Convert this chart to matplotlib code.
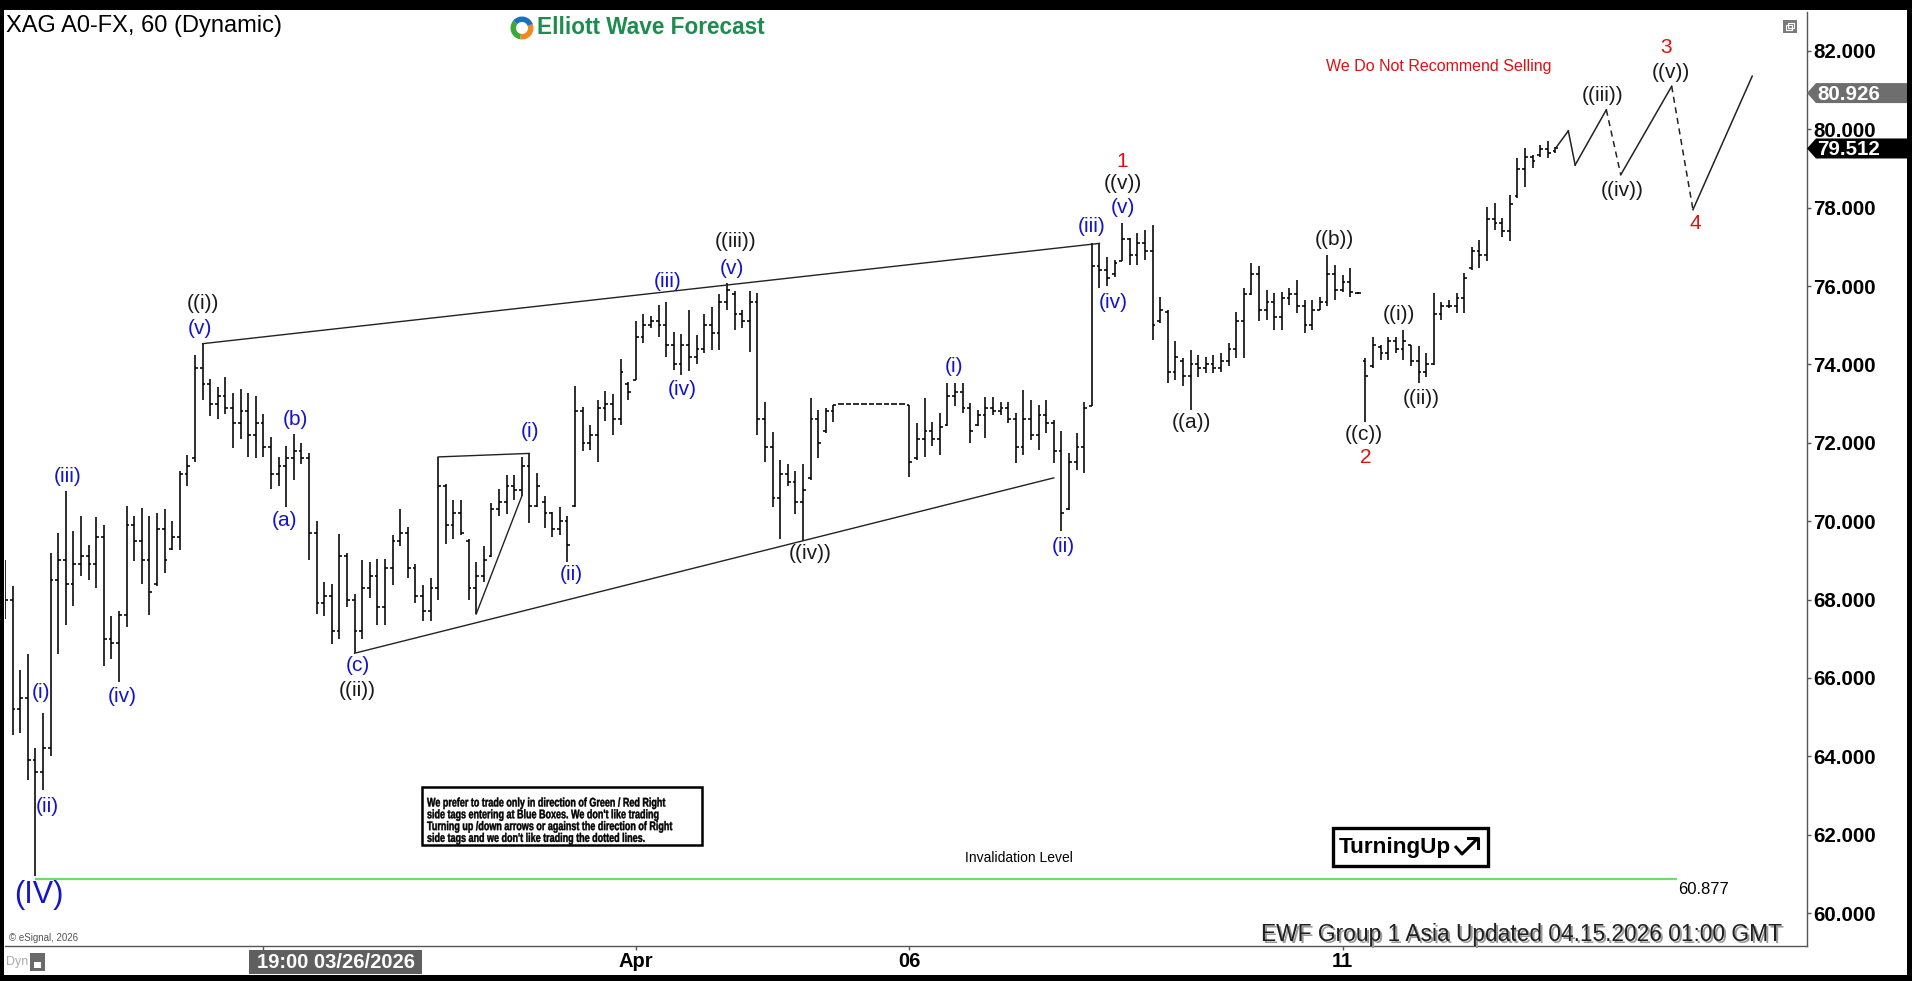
# coding: utf-8
"""
Name: plot.py

XAG hourly bar chart (shown as 2-hour bars) with an Elliott wave count.

Usage: python3 plot.py
"""
import numpy as np
import matplotlib
matplotlib.use("Agg")
import matplotlib.pyplot as plt
from matplotlib.patches import Rectangle, Polygon, Wedge, PathPatch
from matplotlib.textpath import TextPath
from matplotlib.transforms import Affine2D
from matplotlib.font_manager import FontProperties
from matplotlib.ticker import FormatStrFormatter

# bar data, oldest first
opens = [68.8, 68.0, 65.2, 65.5, 63.9, 63.6, 64.2, 68.5, 69.0, 68.4,
         68.9, 69.1, 68.9, 69.6, 67.0, 66.9, 67.6, 69.9, 69.5, 69.0,
         68.4, 69.8, 69.3, 69.6, 71.2, 71.6, 73.9, 73.5, 73.0, 73.2,
         72.9, 72.5, 72.8, 72.2, 72.5, 71.9, 71.2, 71.4, 71.6, 71.8,
         71.6, 69.7, 67.9, 68.1, 67.2, 69.1, 68.0, 67.2, 68.3, 68.6,
         67.8, 68.8, 69.5, 69.7, 68.8, 68.1, 67.7, 68.3, 70.9, 69.9,
         70.2, 69.5, 68.3, 68.6, 69.1, 70.3, 70.5, 70.9, 70.8, 71.4,
         70.4, 70.5, 70.2, 69.8, 70.0, 70.4, 72.8, 72.0, 72.2, 72.9,
         73.0, 72.6, 73.5, 73.6, 74.7, 75.0, 75.1, 75.0, 74.5, 74.0,
         74.5, 74.2, 74.4, 75.0, 74.8, 75.6, 75.8, 75.3, 75.1, 75.6,
         72.6, 71.9, 70.6, 71.2, 71.0, 70.5, 71.1, 72.6, 72.3, 72.8,
         72.99, 72.99, 72.99, 72.99, 72.99, 72.99, 72.99, 72.99, 72.99, 72.97,
         71.6, 72.1, 72.3, 72.1, 72.45, 73.2, 73.3, 72.9, 72.45, 72.7,
         72.9, 72.8, 72.9, 72.6, 71.9, 72.6, 72.2, 72.7, 72.5, 71.8,
         70.3, 71.5, 71.9, 72.95, 76.5, 76.4, 76.3, 76.65, 77.2, 76.8,
         77.1, 76.9, 75.1, 75.35, 73.8, 74.1, 73.7, 74.0, 73.9, 74.0,
         73.9, 74.1, 74.4, 75.1, 75.8, 76.3, 75.4, 75.6, 75.2, 75.7,
         75.8, 75.5, 75.0, 75.4, 75.6, 76.3, 75.9, 76.1, 75.82, 74.1,
         73.95, 74.45, 74.3, 74.6, 74.4, 74.5, 74.1, 73.8, 74.0, 75.3,
         75.5, 75.5, 75.7, 76.45, 76.9, 76.8, 77.7, 77.6, 77.4, 78.3,
         79.0, 79.3, 79.35, 79.5, 79.45]
highs = [69.0, 68.34, 66.2, 66.6, 64.2, 65.1, 69.2, 69.7, 70.76, 69.74,
         70.12, 69.4, 70.1, 69.9, 67.57, 67.7, 70.38, 70.12, 70.34, 70.12,
         70.2, 70.3, 70.0, 71.27, 71.7, 74.24, 74.53, 73.64, 73.42, 73.69,
         73.28, 73.37, 73.28, 73.19, 72.73, 72.14, 71.64, 71.91, 72.23, 72.0,
         71.73, 70.0, 68.45, 68.4, 69.68, 69.18, 68.13, 69.0, 68.95, 69.04,
         69.04, 69.64, 70.32, 69.86, 68.91, 68.36, 68.54, 71.64, 70.96, 70.55,
         70.55, 69.55, 68.95, 69.36, 70.46, 70.82, 71.18, 71.18, 71.64, 71.73,
         71.23, 70.64, 70.23, 70.36, 70.14, 73.46, 72.92, 72.46, 73.1, 73.33,
         73.24, 74.15, 73.55, 75.1, 75.28, 75.24, 75.51, 75.6, 74.83, 74.78,
         75.38, 74.74, 75.28, 75.47, 75.79, 76.09, 75.88, 75.38, 75.88, 75.83,
         73.05, 72.28, 71.55, 71.46, 71.27, 71.46, 73.14, 72.84, 72.89, 72.97,
         72.99, 72.99, 72.99, 72.99, 72.99, 72.99, 72.99, 72.99, 72.99, 72.97,
         72.5, 73.14, 72.54, 72.76, 73.52, 73.52, 73.52, 73.01, 72.84, 73.18,
         73.18, 73.05, 73.05, 72.76, 73.35, 73.1, 72.97, 73.1, 72.59, 72.29,
         71.74, 72.25, 73.05, 77.09, 77.09, 76.75, 76.67, 77.6, 77.22, 77.35,
         77.43, 77.56, 75.73, 75.39, 74.59, 74.16, 74.37, 74.24, 74.2, 74.24,
         74.29, 74.54, 75.35, 75.95, 76.58, 76.5, 75.9, 75.82, 75.86, 75.95,
         76.16, 75.65, 75.65, 75.73, 76.8, 76.54, 76.29, 76.46, 75.84, 74.16,
         74.71, 74.5, 74.71, 74.71, 74.88, 74.5, 74.46, 74.29, 75.82, 75.6,
         75.65, 75.82, 76.33, 77.01, 77.18, 78.03, 78.11, 77.73, 78.33, 79.26,
         79.52, 79.35, 79.6, 79.69, 79.55]
lows = [67.5, 64.55, 64.6, 63.4, 60.94, 63.15, 64.0, 66.6, 67.36, 67.83,
        68.6, 68.5, 68.3, 66.3, 66.47, 65.9, 67.3, 68.98, 68.4, 67.6,
        68.34, 68.68, 69.27, 69.27, 70.9, 71.5, 73.1, 72.69, 72.6, 72.73,
        71.87, 72.1, 71.64, 71.6, 71.64, 70.82, 70.91, 70.36, 71.05, 71.46,
        69.0, 67.63, 67.59, 66.86, 67.0, 67.81, 66.63, 67.0, 68.04, 67.36,
        67.36, 68.36, 69.36, 68.54, 67.9, 67.45, 67.45, 68.0, 69.41, 69.55,
        69.64, 68.0, 67.63, 68.45, 69.09, 70.14, 70.18, 70.55, 70.64, 69.95,
        70.36, 69.82, 69.59, 69.64, 68.95, 70.36, 71.78, 71.82, 71.5, 72.55,
        72.19, 72.46, 73.1, 73.6, 74.55, 74.92, 74.69, 74.19, 73.87, 73.74,
        73.83, 74.0, 74.28, 74.37, 74.37, 75.38, 74.87, 74.92, 74.33, 72.19,
        71.5, 70.36, 69.55, 70.91, 70.18, 69.5, 71.06, 71.61, 72.25, 72.54,
        72.99, 72.99, 72.99, 72.99, 72.99, 72.99, 72.99, 72.99, 72.99, 71.14,
        71.57, 71.65, 71.91, 71.69, 72.42, 72.93, 72.76, 71.99, 72.42, 72.12,
        72.71, 72.71, 72.5, 71.48, 71.69, 72.08, 71.82, 72.25, 71.48, 69.74,
        70.29, 71.31, 71.23, 72.93, 75.95, 75.99, 76.24, 76.63, 76.54, 76.54,
        76.67, 74.63, 75.05, 73.52, 73.61, 73.44, 72.84, 73.69, 73.78, 73.78,
        73.82, 73.95, 74.16, 74.16, 75.78, 75.1, 75.14, 74.88, 74.88, 75.52,
        75.31, 74.8, 74.88, 75.39, 75.48, 75.65, 75.86, 75.73, 75.8, 72.54,
        73.9, 74.12, 74.12, 74.29, 74.12, 73.95, 73.52, 73.69, 73.99, 75.14,
        75.44, 75.31, 75.31, 76.41, 76.46, 76.63, 77.43, 77.26, 77.14, 78.24,
        78.54, 79.01, 79.3, 79.26, 79.39]
closes = [68.0, 65.2, 65.5, 63.9, 63.6, 64.2, 68.5, 69.0, 68.4, 68.9,
          69.1, 68.9, 69.6, 67.0, 66.9, 67.6, 69.9, 69.5, 69.0, 68.2,
          69.8, 69.0, 69.6, 71.2, 71.4, 73.9, 73.5, 73.0, 73.2, 72.9,
          72.5, 72.8, 72.2, 72.5, 71.9, 71.2, 71.4, 71.6, 71.8, 71.6,
          69.7, 67.9, 68.1, 67.2, 69.1, 68.0, 67.2, 68.3, 68.6, 67.8,
          68.8, 69.5, 69.7, 68.8, 68.1, 67.7, 68.3, 70.9, 69.9, 70.2,
          69.7, 68.3, 68.6, 69.0, 70.3, 70.5, 70.9, 70.8, 71.4, 70.4,
          70.9, 70.2, 69.8, 70.0, 69.4, 72.8, 72.0, 72.2, 72.9, 73.0,
          72.6, 73.8, 73.3, 74.7, 75.0, 75.1, 75.0, 74.5, 74.0, 74.5,
          74.2, 74.4, 75.0, 74.8, 75.6, 75.9, 75.3, 75.1, 75.6, 72.6,
          71.9, 70.6, 71.2, 71.0, 70.5, 70.8, 72.6, 72.0, 72.8, 72.97,
          72.99, 72.99, 72.99, 72.99, 72.99, 72.99, 72.99, 72.99, 72.99, 71.5,
          72.1, 72.3, 72.1, 72.4, 73.2, 73.3, 72.9, 72.3, 72.7, 72.9,
          72.8, 72.9, 72.6, 71.9, 72.6, 72.2, 72.7, 72.5, 71.8, 70.2,
          71.5, 71.9, 72.9, 76.5, 76.4, 76.2, 76.6, 77.2, 76.8, 77.1,
          76.9, 75.0, 75.4, 73.8, 74.2, 73.7, 74.0, 73.9, 74.0, 73.9,
          74.1, 74.4, 75.1, 75.8, 76.3, 75.4, 75.6, 75.2, 75.7, 75.8,
          75.5, 75.0, 75.4, 75.6, 76.3, 75.9, 76.1, 75.85, 75.82, 73.7,
          74.5, 74.3, 74.6, 74.4, 74.6, 74.1, 73.8, 74.0, 75.3, 75.5,
          75.5, 75.7, 76.2, 76.9, 76.8, 77.7, 77.6, 77.4, 78.1, 79.0,
          79.3, 79.2, 79.5, 79.4, 79.512]

date_ticks = [34, 83, 119, 176]
date_labels = ["", "Apr", "06", "11"]
price_ticks = list(range(60, 83, 2))

invalidation = 60.877
marker_level = 80.926

# forecast path drawn after the last bar
proj_bars = [204, 205.7, 206.6, 210.7, 212.6, 219.3, 222.1, 229.9]
proj_prices = [79.512, 79.96, 79.09, 80.5, 78.84, 81.1, 77.95, 81.36]
proj_dashed = [False, False, False, True, False, True, False]

BLUE, BLACK, RED = "#1414c8", "#1a1a1a", "#e01010"

# (text, bar, anchor, dx pt, dy pt, colour)
wave_labels = [
    ("(IV)", 4, "low", 2.6, -13.3, BLUE),
    ("(i)", 5, "high", -1.4, 14.7, BLUE),
    ("(ii)", 5, "low", 2.9, -12.4, BLUE),
    ("(iii)", 8, "high", 1.6, 10.5, BLUE),
    ("(iv)", 15, "low", 2.2, -10.7, BLUE),
    ("(v)", 26, "high", -1.9, 10.7, BLUE),
    ("((i))", 26, "high", 0.3, 28.8, BLACK),
    ("(a)", 37, "low", -0.9, -9.9, BLUE),
    ("(b)", 38, "high", 0.9, 10.0, BLUE),
    ("(c)", 46, "low", 2.4, -9.0, BLUE),
    ("((ii))", 46, "low", 1.7, -27.1, BLACK),
    ("(i)", 69, "high", 0.4, 15.5, BLUE),
    ("(ii)", 74, "low", 2.6, -9.0, BLUE),
    ("(iii)", 87, "high", 1.3, 14.4, BLUE),
    ("(iv)", 89, "low", 0.4, -11.0, BLUE),
    ("(v)", 95, "high", 3.6, 10.4, BLUE),
    ("((iii))", 95, "high", 6.5, 29.3, BLACK),
    ("((iv))", 105, "low", 5.0, -9.0, BLACK),
    ("(i)", 124, "high", 4.8, 11.8, BLUE),
    ("(ii)", 139, "low", 1.2, -11.0, BLUE),
    ("(iii)", 144, "high", -5.3, 11.8, BLUE),
    ("(iv)", 145, "low", 4.3, -11.8, BLUE),
    ("(v)", 147, "high", 0.6, 11.3, BLUE),
    ("((v))", 147, "high", 0.6, 28.5, BLACK),
    ("1", 147, "high", 0.0, 44.3, RED),
    ("((a))", 156, "low", 0.3, -9.0, BLACK),
    ("((b))", 174, "high", 4.7, 10.7, BLACK),
    ("((c))", 179, "low", -1.0, -9.0, BLACK),
    ("2", 179, "low", 0.4, -26.0, RED),
    ("((i))", 184, "high", -3.2, 11.0, BLACK),
    ("((ii))", 186, "low", 1.7, -11.3, BLACK),
    ("((iii))", 3, "proj", -2.9, 10.0, BLACK),
    ("((iv))", 4, "proj", 0.7, -11.6, BLACK),
    ("((v))", 5, "proj", -0.7, 10.2, BLACK),
    ("3", 5, "proj", -4.3, 27.6, RED),
    ("4", 6, "proj", 1.4, -9.6, RED),
]

disclaimer = ["We prefer to trade only in direction of Green / Red Right",
              "side tags entering at Blue Boxes. We don't like trading",
              "Turning up /down arrows or against the direction of Right",
              "side tags and we don't like trading the dotted lines."]

W, H = 1912, 981
plt.rcParams["font.family"] = ["Liberation Sans", "DejaVu Sans"]


def draw_bars(ax):
    """OHLC bars, trend lines and forecast path."""
    x = np.arange(len(highs))
    ax.vlines(x, lows, highs, color="black", lw=1.15)
    ax.hlines(opens, x - 0.38, x, color="black", lw=1.15)
    ax.hlines(closes, x, x + 0.38, color="black", lw=1.15)

    line_kw = dict(color="#222222", lw=1.0)
    ax.plot([26, 144], [highs[26], highs[144]], **line_kw)
    slope = (lows[105] - lows[46]) / (105 - 46)
    ax.plot([46, 138], [lows[46], lows[46] + slope * (138 - 46)], **line_kw)
    ax.plot([57, 69], [highs[57], highs[69]], **line_kw)
    ax.plot([62, 68], [lows[62], lows[68]], **line_kw)

    for i, dashed in enumerate(proj_dashed):
        ax.plot(proj_bars[i:i + 2], proj_prices[i:i + 2], color="#222222",
                lw=1.1, ls=(0, (4, 3)) if dashed else "-")

    ax.hlines(invalidation, 4, 220, color="#6fdc6f", lw=1.6)


def draw_labels(ax):
    """wave labels anchored on bars."""
    for text, idx, anchor, dx, dy, color in wave_labels:
        if anchor == "proj":
            xy = (proj_bars[idx], proj_prices[idx])
        elif anchor == "high":
            xy = (idx, highs[idx])
        else:
            xy = (idx, lows[idx])
        size = 22 if text == "(IV)" else 15
        ax.annotate(text, xy=xy, xytext=(dx, dy), textcoords="offset points",
                    ha="center", va="center", fontsize=size, color=color)


def narrow_text(ov, x, y, s, size, squeeze):
    """bold text squeezed horizontally (no narrow font installed)."""
    prop = FontProperties(family="Liberation Sans", weight="bold")
    tp = TextPath((0, 0), s, size=size, prop=prop)
    tr = Affine2D().scale(squeeze, -1).translate(x, y) + ov.transData
    ov.add_patch(PathPatch(tp, transform=tr, color="black", lw=0.3))


def draw_chrome(fig, ax):
    """frame, titles, boxes and price tags in pixel space."""
    ov = fig.add_axes([0, 0, 1, 1], zorder=5)
    ov.set_xlim(0, W)
    ov.set_ylim(H, 0)
    ov.axis("off")
    ov.patch.set_alpha(0)

    for r in [(0, 0, W, 10), (0, 0, 4, H), (1907, 0, 5, H), (0, 975, W, 6)]:
        ov.add_patch(Rectangle(r[:2], r[2], r[3], color="black", lw=0))

    ov.text(6, 26, "XAG A0-FX, 60 (Dynamic)", fontsize=17, va="center")
    for a1, a2, c in [(100, 220, "#3aa935"), (-20, 100, "#f08a1c"), (220, 340, "#1d6fc0")]:
        ov.add_patch(Wedge((522, 28), 11.5, a1, a2, width=5.5, color=c, lw=0))
    ov.text(537, 28, "Elliott Wave Forecast", fontsize=16.3, fontweight="bold",
            color="#1e8c4e", va="center")
    ov.text(1439, 66, "We Do Not Recommend Selling", fontsize=11.5,
            color=RED, ha="center", va="center")
    ov.add_patch(Rectangle((1783, 20), 14, 13, color="#7a7a7a", lw=0))
    ov.add_patch(Rectangle((1786, 25), 6, 5, fill=False, ec="white", lw=0.8))
    ov.add_patch(Rectangle((1788, 23), 6, 5, fill=False, ec="white", lw=0.8))

    # price tags on the right axis
    for price, face in [(marker_level, "#6e6e6e"), (closes[-1], "black")]:
        y = H - ax.transData.transform((0, price))[1]
        ov.add_patch(Polygon([(1807, y), (1816, y - 10), (1907, y - 10),
                              (1907, y + 10), (1816, y + 10)], closed=True,
                             color=face, lw=0))
        ov.text(1817, y + 1, f"{price:.3f}", fontsize=14.8, fontweight="bold",
                color="white", va="center")

    # disclaimer box
    ov.add_patch(Rectangle((422, 787), 280, 58, fill=False, ec="black", lw=1.8))
    for i, line in enumerate(disclaimer):
        narrow_text(ov, 427, 806.5 + 11.8 * i, line, 12.5, 0.72)

    # turning up box
    ov.add_patch(Rectangle((1333, 828), 155, 38, fill=False, ec="black", lw=2.4))
    ov.text(1339, 848, "TurningUp", fontsize=16.2, fontweight="bold", va="center")
    ov.plot([1455, 1462, 1478], [846, 854, 838], color="black", lw=2.2,
            solid_capstyle="butt")
    ov.plot([1468, 1478, 1478], [838, 838, 848], color="black", lw=2.2)

    ov.text(1019, 858, "Invalidation Level", fontsize=10, ha="center", va="center")
    ov.text(1678, 890, f"{invalidation:.3f}", fontsize=12, va="center")

    for off, col in [(2, "#9a9a9a"), (0, "#202020")]:
        ov.text(1782 + off, 935 + off, "EWF Group 1 Asia Updated 04.15.2026 01:00 GMT",
                fontsize=16.4, ha="right", va="center", color=col)

    ov.text(9, 938, "\u00a9 eSignal, 2026", fontsize=7, color="#555555", va="center")
    ov.text(6, 962, "Dyn", fontsize=9, color="#aaaaaa", va="center")
    ov.add_patch(Rectangle((30, 953), 15, 18, color="#6a6a6a", lw=0))
    ov.add_patch(Rectangle((34, 962), 7, 6, color="white", lw=0))

    ov.add_patch(Rectangle((249, 950), 173, 24, color="#5f5f5f", lw=0))
    ov.text(336, 962.5, "19:00 03/26/2026", fontsize=14.5, fontweight="bold",
            color="white", ha="center", va="center")


def mk_chart():
    """make the chart."""
    fig = plt.figure(figsize=(W / 100, H / 100), dpi=100)
    fig.patch.set_facecolor("white")
    ax = fig.add_axes([5 / W, 1 - 946 / H, (1807 - 5) / W, (946 - 12) / H])
    ax.set_xlim(0, (1807 - 5) / 7.6)
    ax.set_ylim(59.158, 82.995)

    draw_bars(ax)
    draw_labels(ax)

    for side in ["left", "top"]:
        ax.spines[side].set_visible(False)
    for side in ["right", "bottom"]:
        ax.spines[side].set_color("#555555")
        ax.spines[side].set_linewidth(1.0)
    ax.yaxis.tick_right()
    ax.set_yticks(price_ticks)
    ax.yaxis.set_major_formatter(FormatStrFormatter("%.3f"))
    ax.set_xticks(date_ticks)
    ax.set_xticklabels(date_labels)
    ax.tick_params(axis="y", length=3, width=1, color="#555555", pad=1.5,
                   labelsize=14.8)
    ax.tick_params(axis="x", length=3, width=1, color="#555555", pad=1.5,
                   labelsize=14.5)
    for lab in ax.get_yticklabels() + ax.get_xticklabels():
        lab.set_fontweight("bold")

    draw_chrome(fig, ax)
    fig.savefig("out.png", dpi=100, facecolor="white")


def main():
    mk_chart()


if __name__ == "__main__":
    main()
